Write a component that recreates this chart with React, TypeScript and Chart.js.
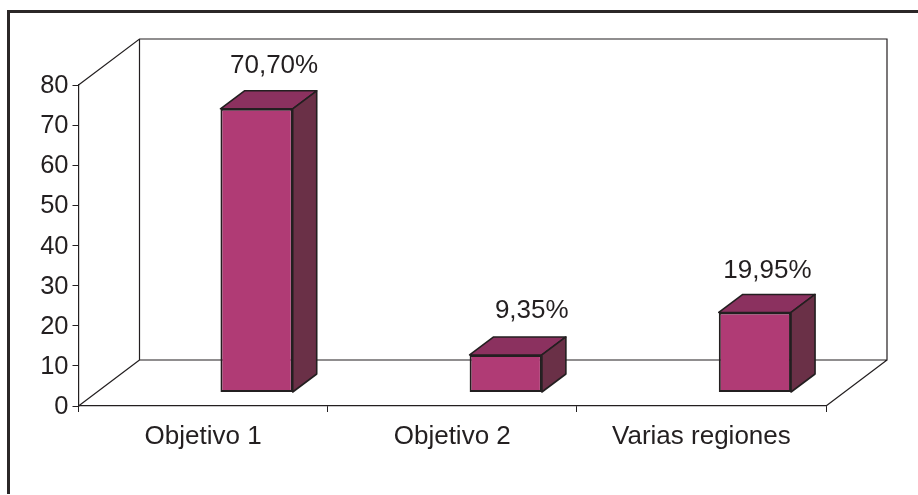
import React, { useEffect, useRef } from "react";
import { Chart, registerables } from "chart.js";

Chart.register(...registerables);

const categories = ["Objetivo 1", "Objetivo 2", "Varias regiones"];
const values = [70.7, 9.35, 19.95];
const valueLabels = ["70,70%", "9,35%", "19,95%"];
const yMax = 80;
const yStep = 10;

const INK = "#231f20";
const FRONT = "#b03b75";
const TOP = "#8b315f";
const SIDE = "#6a3047";
const FONT = '"Liberation Sans", Arial, sans-serif';

const WALL = { dx: 61, dy: -46 };
const BAR_SHIFT = { dx: 53.5, dy: -13.5 };
const BAR_DEPTH = { dx: 24, dy: -18 };
const LABEL_OFFSET_X = [17.5, 26, 12.5];
const LABEL_OFFSET_Y = [-35.5, -36.5, -34.5];

const threeD = {
  id: "threeD",
  beforeDraw(chart: any) {
    const { ctx, width, height } = chart;
    ctx.save();
    ctx.fillStyle = "#ffffff";
    ctx.fillRect(0, 0, width, height);
    ctx.strokeStyle = "#2b2728";
    ctx.lineWidth = 3;
    ctx.beginPath();
    ctx.moveTo(8.5, height - 1);
    ctx.lineTo(8.5, 11.5);
    ctx.lineTo(width, 11.5);
    ctx.stroke();
    ctx.restore();
  },
  beforeDatasetsDraw(chart: any) {
    const { ctx, chartArea: a } = chart;
    ctx.save();
    ctx.strokeStyle = INK;
    ctx.lineWidth = 1.2;
    ctx.beginPath();
    ctx.moveTo(a.left, a.top);
    ctx.lineTo(a.left + WALL.dx, a.top + WALL.dy);
    ctx.lineTo(a.right + WALL.dx, a.top + WALL.dy);
    ctx.lineTo(a.right + WALL.dx, a.bottom + WALL.dy);
    ctx.lineTo(a.left + WALL.dx, a.bottom + WALL.dy);
    ctx.lineTo(a.left + WALL.dx, a.top + WALL.dy);
    ctx.moveTo(a.left, a.bottom);
    ctx.lineTo(a.left + WALL.dx, a.bottom + WALL.dy);
    ctx.moveTo(a.right, a.bottom);
    ctx.lineTo(a.right + WALL.dx, a.bottom + WALL.dy);
    ctx.stroke();
    ctx.restore();
    ctx.save();
    ctx.translate(BAR_SHIFT.dx, BAR_SHIFT.dy);
  },
  afterDatasetsDraw(chart: any) {
    const { ctx } = chart;
    ctx.restore();
    const meta = chart.getDatasetMeta(0);
    ctx.save();
    ctx.strokeStyle = INK;
    ctx.lineWidth = 1.6;
    ctx.lineJoin = "round";
    meta.data.forEach((bar: any, i: number) => {
      const p = bar.getProps(["x", "y", "base", "width"], true);
      const l = p.x - p.width / 2 + BAR_SHIFT.dx;
      const r = p.x + p.width / 2 + BAR_SHIFT.dx;
      const t = p.y + BAR_SHIFT.dy;
      const b = p.base + BAR_SHIFT.dy;
      ctx.fillStyle = TOP;
      ctx.beginPath();
      ctx.moveTo(l, t);
      ctx.lineTo(l + BAR_DEPTH.dx, t + BAR_DEPTH.dy);
      ctx.lineTo(r + BAR_DEPTH.dx, t + BAR_DEPTH.dy);
      ctx.lineTo(r, t);
      ctx.closePath();
      ctx.fill();
      ctx.stroke();
      ctx.fillStyle = SIDE;
      ctx.beginPath();
      ctx.moveTo(r, t);
      ctx.lineTo(r + BAR_DEPTH.dx, t + BAR_DEPTH.dy);
      ctx.lineTo(r + BAR_DEPTH.dx, b + BAR_DEPTH.dy);
      ctx.lineTo(r, b);
      ctx.closePath();
      ctx.fill();
      ctx.stroke();
      ctx.fillStyle = INK;
      ctx.font = `26px ${FONT}`;
      ctx.textAlign = "center";
      ctx.textBaseline = "alphabetic";
      ctx.fillText(
        valueLabels[i],
        p.x + BAR_SHIFT.dx + LABEL_OFFSET_X[i],
        t + LABEL_OFFSET_Y[i]
      );
    });
    ctx.restore();
  },
};

export default function App() {
  const ref = useRef<HTMLCanvasElement>(null);
  useEffect(() => {
    const chart = new Chart(ref.current!, {
      type: "bar",
      data: {
        labels: categories,
        datasets: [
          {
            data: values,
            backgroundColor: FRONT,
            borderColor: INK,
            borderWidth: 2,
            borderSkipped: false,
            barPercentage: 0.29,
            categoryPercentage: 1,
            clip: false as any,
          },
        ],
      },
      options: {
        animation: false,
        responsive: false,
        layout: { padding: { top: 85, right: 92, left: 0, bottom: 0 } },
        plugins: { legend: { display: false }, tooltip: { enabled: false } },
        scales: {
          x: {
            afterFit: (s: any) => {
              s.height = 89;
            },
            border: { color: INK, width: 1.2 },
            grid: { drawOnChartArea: false, color: INK, tickLength: 6, lineWidth: 1 },
            ticks: {
              color: INK,
              font: { family: FONT, size: 26 },
              padding: 9,
              maxRotation: 0,
              autoSkip: false,
            },
          },
          y: {
            min: 0,
            max: yMax,
            afterFit: (s: any) => {
              s.width = 78.5;
            },
            border: { color: INK, width: 1.2 },
            grid: { drawOnChartArea: false, color: INK, tickLength: 6, lineWidth: 1 },
            ticks: {
              stepSize: yStep,
              color: INK,
              font: { family: FONT, size: 25.5 },
              padding: 4,
              labelOffset: 1,
            },
          },
        },
      },
      plugins: [threeD],
    });
    return () => chart.destroy();
  }, []);
  return (
    <div style={{ position: "fixed", left: 0, top: 0, width: 918, height: 495 }}>
      <canvas ref={ref} width={918} height={495} style={{ display: "block" }} />
    </div>
  );
}
